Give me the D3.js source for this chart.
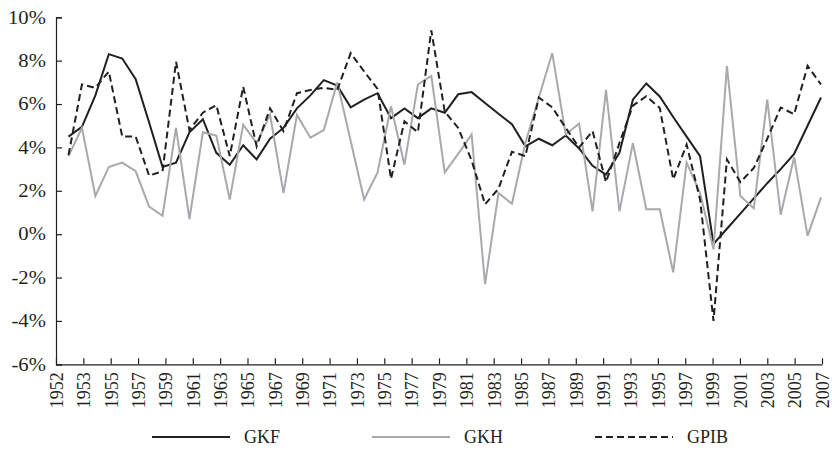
<!DOCTYPE html>
<html>
<head>
<meta charset="utf-8">
<script src="https://cdn.jsdelivr.net/npm/d3@7"></script>
<style>
    body { margin: 0; background: #fff; }
    svg { display: block; font-family: "Liberation Serif", "Times New Roman", serif; }
</style>
</head>
<body>
<div id="chart"></div>
<script>
// one value per year, 57 points
const periods = d3.range(1951, 2008);

const gkf = [4.5, 4.95, 6.4, 8.3, 8.1, 7.15, 5.15, 3.1, 3.3, 4.7,
    5.3, 3.75, 3.2, 4.1, 3.45, 4.4, 4.9, 5.8, 6.4, 7.1,
    6.85, 5.85, 6.2, 6.5, 5.35, 5.8, 5.35, 5.8, 5.6, 6.45,
    6.55, 6.05, 5.55, 5.07, 4.05, 4.4, 4.1, 4.55, 3.95, 3.15,
    2.75, 3.75, 6.2, 6.95, 6.35, 5.4, 4.5, 3.6, -0.45, 0.25,
    0.95, 1.65, 2.35, 3.0, 3.7, 5.0, 6.3];

const gkh = [3.6, 4.9, 1.76, 3.1, 3.3, 2.9, 1.27, 0.85, 4.9, 0.7,
    4.7, 4.55, 1.6, 5.05, 4.2, 5.5, 1.9, 5.5, 4.45, 4.8,
    7.0, 4.3, 1.6, 2.85, 5.9, 3.2, 6.9, 7.3, 2.85, 3.7,
    4.6, -2.3, 1.9, 1.4, 4.2, 6.3, 8.35, 4.6, 5.1, 1.05,
    6.66, 1.05, 4.2, 1.15, 1.15, -1.76, 3.3, 1.9, -0.7, 7.75,
    1.76, 1.2, 6.2, 0.9, 3.55, -0.08, 1.7];

const gpib = [3.65, 6.9, 6.75, 7.5, 4.5, 4.5, 2.7, 2.9, 7.95, 4.8,
    5.6, 5.95, 3.6, 6.8, 4.05, 5.8, 4.75, 6.5, 6.65, 6.75,
    6.65, 8.35, 7.5, 6.7, 2.55, 5.2, 4.7, 9.4, 5.65, 4.9,
    3.4, 1.38, 2.1, 3.8, 3.6, 6.3, 5.85, 4.9, 4.0, 4.75,
    2.4, 4.2, 5.93, 6.36, 5.82, 2.53, 4.13, 1.6, -4.0, 3.45,
    2.4, 3.05, 4.4, 5.84, 5.53, 7.76, 6.9];

const tickLabels = ['1952', '1953', '1955', '1957', '1959', '1961', '1963', '1965',
    '1967', '1969', '1971', '1973', '1975', '1977', '1979', '1981', '1983', '1985',
    '1987', '1989', '1991', '1993', '1995', '1997', '1999', '2001', '2003', '2005', '2007'];

const yTicks = [-6, -4, -2, 0, 2, 4, 6, 8, 10];

const seriesNames = ['GKF', 'GKH', 'GPIB'];
const seriesValues = [gkf, gkh, gpib];

const styles = {
    GKF: { color: '#231f20', dash: null },
    GKH: { color: '#a7a9ac', dash: null },
    GPIB: { color: '#231f20', dash: '7,4' }
};

const width = 832, height = 457;
const plot = { left: 56, right: 822, top: 17.3, bottom: 364.3 };

const svg = d3.select('#chart').append('svg')
    .attr('width', width)
    .attr('height', height)
    .attr('viewBox', `0 0 ${width} ${height}`);

const x = d3.scaleLinear()
    .domain([periods[0], periods[periods.length - 1]])
    .range([68.5, 821]);

// axis ticks do not sit exactly on the data points
const xTick = d3.scaleLinear()
    .domain([0, tickLabels.length - 1])
    .range([plot.left, plot.right]);

const y = d3.scaleLinear()
    .domain([-6, 10])
    .range([plot.bottom, plot.top]);

// y axis, ticks pointing inside
const yAxis = d3.axisLeft(y)
    .tickValues(yTicks)
    .tickSize(-6)
    .tickPadding(11)
    .tickFormat(d => d + '%');

const yg = svg.append('g')
    .attr('transform', `translate(${plot.left},0)`)
    .call(yAxis);
yg.select('.domain').attr('stroke', '#231f20').attr('stroke-width', 1.2);
yg.selectAll('.tick line').attr('stroke', '#231f20').attr('stroke-width', 1.2);
yg.selectAll('.tick text')
    .attr('fill', '#231f20')
    .attr('font-size', 18)
    .attr('font-family', '"Liberation Serif", serif')
    .attr('transform', 'translate(-17,0) scale(1.15,1) translate(17,0)');

// x axis
const xAxis = d3.axisBottom(xTick)
    .tickValues(d3.range(tickLabels.length))
    .tickSize(-6)
    .tickSizeOuter(0)
    .tickFormat(i => tickLabels[i]);

const xg = svg.append('g')
    .attr('transform', `translate(0,${plot.bottom})`)
    .call(xAxis);
xg.select('.domain').attr('stroke', '#231f20').attr('stroke-width', 1.2);
xg.selectAll('.tick line').attr('stroke', '#231f20').attr('stroke-width', 1.2);
xg.selectAll('.tick text')
    .attr('fill', '#231f20')
    .attr('font-size', 18)
    .attr('font-family', '"Liberation Serif", serif')
    .attr('transform', 'rotate(-90)')
    .attr('x', -8)
    .attr('y', 0)
    .attr('dy', '0.35em')
    .style('text-anchor', 'end');

// lines
const line = d3.line()
    .x((d, i) => x(periods[i]))
    .y(d => y(d));

seriesNames.forEach((name, k) => {
    svg.append('path')
        .datum(seriesValues[k])
        .attr('fill', 'none')
        .attr('stroke', styles[name].color)
        .attr('stroke-width', 2)
        .attr('stroke-dasharray', styles[name].dash)
        .attr('stroke-linejoin', 'miter')
        .attr('d', line);
});

// legend
const legendX = [152, 372, 595];
const legendY = 437;

const legend = svg.selectAll('.legend-item')
    .data(seriesNames)
    .enter()
    .append('g')
    .attr('class', 'legend-item')
    .attr('transform', (d, i) => `translate(${legendX[i]},${legendY})`);

legend.append('line')
    .attr('x1', 0)
    .attr('x2', 78)
    .attr('stroke', d => styles[d].color)
    .attr('stroke-width', 2.2)
    .attr('stroke-dasharray', d => styles[d].dash);

legend.append('text')
    .text(d => d)
    .attr('x', 92)
    .attr('dy', '0.35em')
    .attr('font-size', 18)
    .attr('fill', '#231f20');
</script>
</body>
</html>
